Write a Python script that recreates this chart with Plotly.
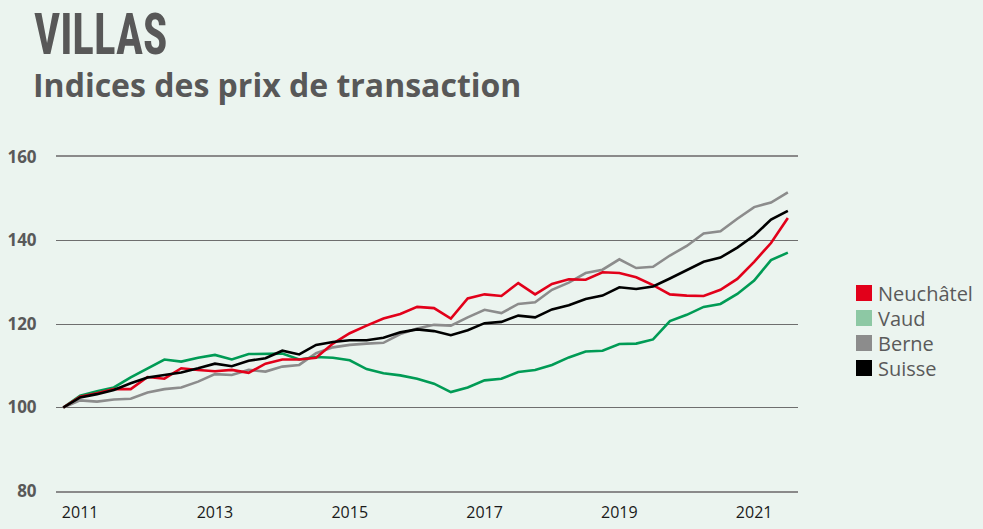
import plotly.graph_objects as go

# ---- data (quarterly, 2010 T4 -> 2021 T3) ----
start_year, start_q, n_quarters = 2010, 4, 44
neuchatel = [100, 102.6, 103.4, 104.4, 104.4, 107.3, 106.9, 109.4, 109.0, 108.7,
             109.0, 108.3, 110.5, 111.5, 111.5, 111.9, 115.3, 117.8, 119.6, 121.3,
             122.4, 124.1, 123.8, 121.3, 126.1, 127.1, 126.7, 129.8, 127.1, 129.6,
             130.7, 130.6, 132.4, 132.2, 131.2, 129.3, 127.1, 126.8, 126.7, 128.2,
             130.8, 134.9, 139.4, 145.4]
vaud = [100, 102.8, 103.9, 104.8, 107.2, 109.4, 111.5, 111.0, 111.9, 112.6,
        111.5, 112.8, 112.9, 112.9, 111.5, 112.1, 111.9, 111.3, 109.2, 108.2,
        107.7, 106.9, 105.7, 103.7, 104.8, 106.5, 106.9, 108.5, 109.0, 110.2,
        112.0, 113.4, 113.6, 115.2, 115.3, 116.3, 120.7, 122.2, 124.1, 124.8,
        127.2, 130.4, 135.3, 137.1]
berne = [100, 101.7, 101.4, 101.9, 102.1, 103.6, 104.4, 104.8, 106.2, 108.0,
         107.8, 109.0, 108.6, 109.8, 110.2, 113.0, 114.4, 115.0, 115.3, 115.5,
         117.6, 118.9, 119.8, 119.6, 121.6, 123.4, 122.6, 124.8, 125.2, 128.2,
         129.9, 132.2, 133.0, 135.5, 133.4, 133.7, 136.4, 138.7, 141.7, 142.2,
         145.2, 148.0, 149.1, 151.5]
suisse = [100, 102.4, 103.2, 104.2, 105.8, 107.2, 107.8, 108.4, 109.4, 110.5,
          109.9, 111.2, 111.8, 113.6, 112.7, 115.0, 115.7, 116.1, 116.1, 116.7,
          118.0, 118.7, 118.3, 117.3, 118.5, 120.2, 120.5, 122.0, 121.6, 123.5,
          124.5, 126.0, 126.8, 128.8, 128.4, 129.0, 130.9, 133.0, 134.9, 135.9,
          138.3, 141.2, 145.0, 147.1]
series_names = ["Neuchâtel", "Vaud", "Berne", "Suisse"]
x_tick_labels = ["2011", "2013", "2015", "2017", "2019", "2021"]
y_ticks = [80, 100, 120, 140, 160]

# quarter positions as decimal years
quarters = []
y, q = start_year, start_q
for _ in range(n_quarters):
    quarters.append(y + (q - 1) / 4)
    q += 1
    if q > 4:
        q, y = 1, y + 1

BG = "#EBF4EF"
line_colors = {"Neuchâtel": "#E2001A", "Vaud": "#009B55", "Berne": "#8C8C8C", "Suisse": "#000000"}
swatch_colors = {"Neuchâtel": "#E2001A", "Vaud": "#8DC8A4", "Berne": "#8C8C8C", "Suisse": "#000000"}
values = {"Neuchâtel": neuchatel, "Vaud": vaud, "Berne": berne, "Suisse": suisse}

fig = go.Figure()
for name in ["Berne", "Vaud", "Neuchâtel", "Suisse"]:
    fig.add_trace(go.Scatter(x=quarters, y=values[name], mode="lines", name=name,
                             line=dict(color=line_colors[name], width=2.6),
                             showlegend=False))

W, H = 983, 529
L, R, T, B = 56, 185, 157, 38
pw, ph = W - L - R, H - T - B

def px_x(px):
    return (px - L) / pw

def px_y(py):
    return (H - B - py) / ph

# custom legend: square swatches + text
shapes, annotations = [], []
for k, name in enumerate(series_names):
    cy = 293 + 25 * k
    shapes.append(dict(type="rect", xref="paper", yref="paper",
                       x0=px_x(856), x1=px_x(872), y0=px_y(cy + 8), y1=px_y(cy - 8),
                       fillcolor=swatch_colors[name], line=dict(width=0)))
    annotations.append(dict(text=name, xref="paper", yref="paper",
                            x=px_x(876), y=px_y(cy), xanchor="left", yanchor="middle",
                            showarrow=False,
                            font=dict(family="Open Sans", size=20, color="#5A5A5A")))

annotations.append(dict(text="VILLAS", xref="paper", yref="paper",
                        x=px_x(32), y=px_y(34), xanchor="left", yanchor="middle",
                        showarrow=False, name="title_main",
                        font=dict(family="Liberation Sans Narrow, Roboto Condensed, DejaVu Sans Condensed, Roboto, sans-serif",
                                  size=58, color="#585858", weight="bold")))
annotations.append(dict(text="Indices des prix de transaction", xref="paper", yref="paper",
                        x=px_x(31), y=px_y(84), xanchor="left", yanchor="middle",
                        showarrow=False,
                        font=dict(family="Open Sans", size=32, color="#585858", weight="bold")))

x0 = 2010.75 - 7.3 / 67.4
x1 = x0 + pw / 67.4

fig.update_layout(
    width=W, height=H,
    margin=dict(l=L, r=R, t=T, b=B),
    paper_bgcolor=BG, plot_bgcolor=BG,
    shapes=shapes, annotations=annotations,
    xaxis=dict(range=[x0, x1], tickvals=[int(t) for t in x_tick_labels], ticktext=x_tick_labels,
               showgrid=False, zeroline=False, showline=True, mirror=True, automargin=False,
               linecolor="#8A8A8A", linewidth=1.6,
               ticks="outside", ticklen=6, tickcolor="rgba(0,0,0,0)",
               tickfont=dict(family="Open Sans", size=16, color="#1A1A1A")),
    yaxis=dict(range=[80, 160], tickvals=y_ticks, automargin=False,
               showgrid=True, gridcolor="#6E6E6E", gridwidth=1.3, zeroline=False,
               showline=False, ticks="outside", ticklen=15, tickcolor="rgba(0,0,0,0)",
               tickfont=dict(family="Open Sans", size=17, color="#595959", weight="bold")),
)

post = """
document.body.style.margin='0';
document.body.style.background='%s';
try {
  document.querySelectorAll('text.annotation-text').forEach(function(t){
    if (t.textContent === 'VILLAS') {
      var bb = t.getBBox();
      var x0 = bb.x;
      t.setAttribute('transform', 'translate(' + x0 + ',0) scale(0.78,1) translate(' + (-x0) + ',0)');
    }
  });
} catch(e) {}
""" % BG

fig.write_html("out.html", config={"displayModeBar": False}, post_script=post)
